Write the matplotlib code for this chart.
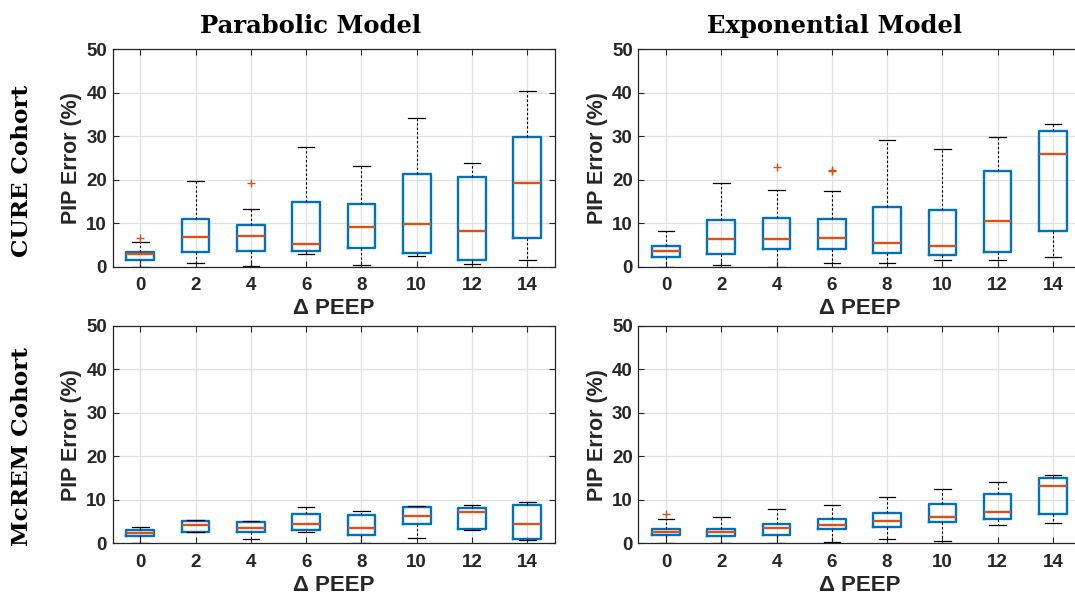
import matplotlib.pyplot as plt

# Delta PEEP steps (x categories)
peep = [0, 2, 4, 6, 8, 10, 12, 14]

# CURE cohort, parabolic model (PIP error %)
cure_par_lo = [0.0, 0.8, 0.1, 2.8, 0.3, 2.5, 0.7, 1.6]
cure_par_q1 = [1.6, 3.4, 3.5, 3.5, 4.4, 3.1, 1.6, 6.5]
cure_par_med = [2.8, 6.8, 7.1, 5.3, 9.1, 9.9, 8.3, 19.3]
cure_par_q3 = [3.4, 11.0, 9.6, 14.9, 14.3, 21.2, 20.6, 29.8]
cure_par_hi = [5.6, 19.6, 13.3, 27.5, 23.2, 34.3, 23.8, 40.5]
cure_par_out = {0: [6.7], 4: [19.3]}

# CURE cohort, exponential model
cure_exp_lo = [0.0, 0.3, 0.0, 0.9, 0.9, 1.5, 1.5, 2.3]
cure_exp_q1 = [2.2, 2.9, 4.0, 4.0, 3.1, 2.6, 3.4, 8.2]
cure_exp_med = [3.7, 6.3, 6.3, 6.5, 5.5, 4.7, 10.6, 25.9]
cure_exp_q3 = [4.7, 10.7, 11.1, 11.0, 13.8, 13.0, 21.9, 31.2]
cure_exp_hi = [8.3, 19.3, 17.6, 17.5, 29.2, 27.1, 29.8, 32.9]
cure_exp_out = {4: [22.9], 6: [22.2, 22.0]}

# McREM cohort, parabolic model
mcrem_par_lo = [0.15, 2.5, 0.9, 2.7, 0.1, 1.2, 3.0, 0.7]
mcrem_par_q1 = [1.6, 2.6, 2.7, 3.1, 1.8, 4.4, 3.4, 1.0]
mcrem_par_med = [2.4, 4.1, 3.6, 4.4, 3.6, 6.3, 7.1, 4.4]
mcrem_par_q3 = [3.1, 5.1, 5.0, 6.7, 6.6, 8.3, 8.1, 8.8]
mcrem_par_hi = [3.7, 5.4, 5.2, 8.4, 7.4, 8.6, 8.8, 9.6]
mcrem_par_out = {}

# McREM cohort, exponential model
mcrem_exp_lo = [0.0, 0.0, 0.0, 0.4, 1.1, 0.6, 4.1, 4.6]
mcrem_exp_q1 = [1.8, 1.6, 2.0, 3.2, 3.8, 5.0, 5.6, 6.7]
mcrem_exp_med = [2.5, 2.6, 3.5, 4.2, 5.1, 6.1, 7.2, 13.1]
mcrem_exp_q3 = [3.4, 3.4, 4.4, 5.7, 7.0, 9.0, 11.4, 15.1]
mcrem_exp_hi = [5.7, 6.0, 8.0, 8.8, 10.7, 12.4, 14.2, 15.7]
mcrem_exp_out = {0: [6.8]}

col_titles = ["Parabolic Model", "Exponential Model"]
row_titles = ["CURE Cohort", "McREM Cohort"]

BLUE = "#0072BD"
ORANGE = "#D95319"
DARK = "#262626"

plt.rcParams["font.family"] = ["Liberation Sans", "DejaVu Sans"]


def make_stats(lo, q1, med, q3, hi, out):
    stats = []
    for i, p in enumerate(peep):
        stats.append(dict(whislo=lo[i], q1=q1[i], med=med[i], q3=q3[i],
                          whishi=hi[i], fliers=out.get(p, [])))
    return stats


panels = [
    [make_stats(cure_par_lo, cure_par_q1, cure_par_med, cure_par_q3, cure_par_hi, cure_par_out),
     make_stats(cure_exp_lo, cure_exp_q1, cure_exp_med, cure_exp_q3, cure_exp_hi, cure_exp_out)],
    [make_stats(mcrem_par_lo, mcrem_par_q1, mcrem_par_med, mcrem_par_q3, mcrem_par_hi, mcrem_par_out),
     make_stats(mcrem_exp_lo, mcrem_exp_q1, mcrem_exp_med, mcrem_exp_q3, mcrem_exp_hi, mcrem_exp_out)],
]

fig = plt.figure(figsize=(10.75, 5.99), dpi=100)

lefts = [0.1048, 0.5938]
bottoms = [0.5548, 0.0930]
w, h = 0.4114, 0.363

for r in range(2):
    for c in range(2):
        ax = fig.add_axes([lefts[c], bottoms[r], w, h])
        ax.set_axisbelow(True)
        ax.bxp(panels[r][c], positions=peep, widths=1.0, capwidths=0.6,
               showfliers=True,
               boxprops=dict(color=BLUE, linewidth=1.7),
               medianprops=dict(color=ORANGE, linewidth=1.7),
               whiskerprops=dict(color="black", linewidth=0.8, linestyle=(0, (2.2, 1.8))),
               capprops=dict(color="black", linewidth=0.9),
               flierprops=dict(marker="+", markeredgecolor=ORANGE, markersize=6,
                               markeredgewidth=1.0, linestyle="none"))
        ax.set_xlim(-1, 15)
        ax.set_ylim(0, 50)
        ax.set_xticks(peep)
        ax.set_xticklabels([str(p) for p in peep])
        ax.set_yticks([0, 10, 20, 30, 40, 50])
        ax.grid(True, color="#e0e0e0", linewidth=0.9)
        ax.tick_params(direction="in", top=True, right=True, length=4, width=0.8,
                       colors=DARK, labelsize=13.5)
        ax.tick_params(axis="x", pad=7.5)
        ax.tick_params(axis="y", pad=4)
        for lab in ax.get_xticklabels() + ax.get_yticklabels():
            lab.set_fontweight("bold")
        for s in ax.spines.values():
            s.set_color(DARK)
            s.set_linewidth(0.9)
        ax.set_xlabel("\u0394 PEEP", fontsize=16, fontweight="bold", color=DARK, labelpad=3)
        ax.set_ylabel("PIP Error (%)", fontsize=15.5, fontweight="bold", color=DARK, labelpad=3)

# column titles
fig.text(311 / 1075, 1 - 33 / 599, col_titles[0], ha="center", va="baseline",
         fontsize=17.5, fontweight="bold", family="DejaVu Serif")
fig.text(835 / 1075, 1 - 33 / 599, col_titles[1], ha="center", va="baseline",
         fontsize=17.5, fontweight="bold", family="DejaVu Serif")

# row titles
fig.text(22.5 / 1075, 1 - 171 / 599, row_titles[0], ha="center", va="center",
         rotation=90, fontsize=16.7, fontweight="bold", family="DejaVu Serif")
fig.text(22.5 / 1075, 1 - 447 / 599, row_titles[1], ha="center", va="center",
         rotation=90, fontsize=16.7, fontweight="bold", family="DejaVu Serif")

fig.savefig("out.png", dpi=100)
